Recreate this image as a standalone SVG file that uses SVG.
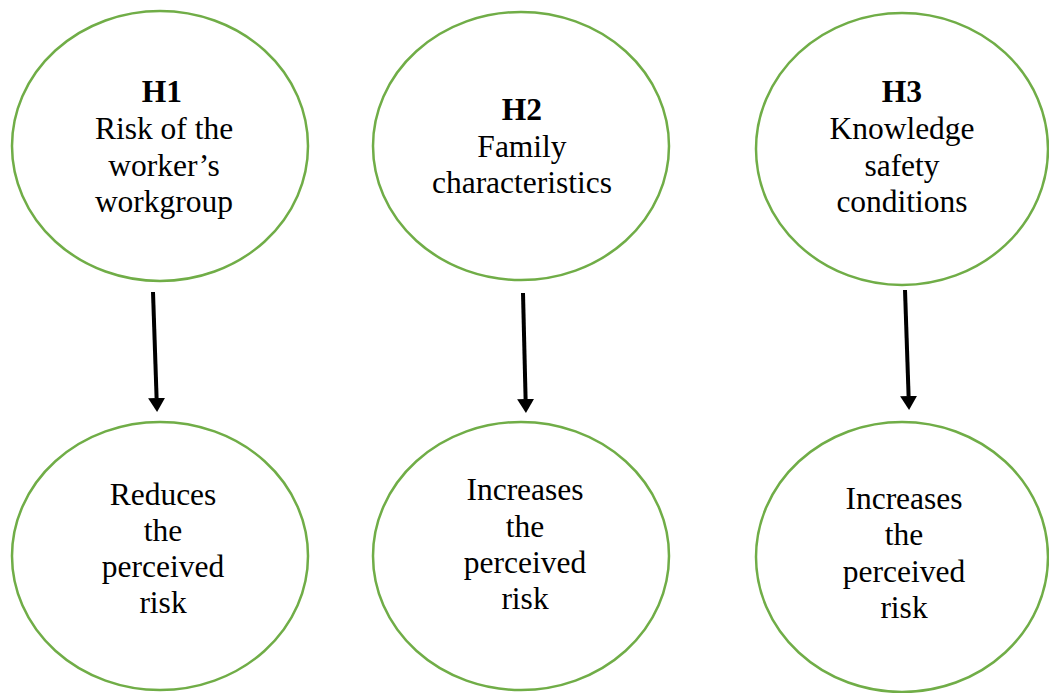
<svg xmlns="http://www.w3.org/2000/svg" width="1049" height="693" viewBox="0 0 1049 693">
  <style>
    .node { fill: #FFFFFF; stroke: #70AD47; stroke-width: 2.5; }
    .t { font-family: "Liberation Serif", "Times New Roman", serif; font-size: 31.5px; fill: #000000; text-anchor: middle; }
    .b { font-weight: bold; }
    .conn { stroke: #000000; stroke-width: 4; fill: none; }
  </style>
  <defs>
    <marker id="arrow" viewBox="0 0 14 17" refX="0" refY="8.5" markerWidth="14" markerHeight="17" markerUnits="userSpaceOnUse" orient="auto">
      <path d="M0,0 L14,8.5 L0,17 z" fill="#000000"/>
    </marker>
  </defs>
  <rect width="1049" height="693" fill="#FFFFFF"/>

  <g id="h1">
    <ellipse class="node" cx="160" cy="146" rx="148" ry="135"/>
    <text class="t b" x="162" y="102">H1</text>
    <text class="t" x="164" y="139">Risk of the</text>
    <text class="t" x="164" y="176">worker’s</text>
    <text class="t" x="164" y="212">workgroup</text>
  </g>
  <g id="h2">
    <ellipse class="node" cx="521" cy="146" rx="148" ry="134"/>
    <text class="t b" x="522" y="120">H2</text>
    <text class="t" x="522" y="157">Family</text>
    <text class="t" x="522" y="193">characteristics</text>
  </g>
  <g id="h3">
    <ellipse class="node" cx="902" cy="149" rx="146" ry="136"/>
    <text class="t b" x="902" y="102">H3</text>
    <text class="t" x="902" y="139">Knowledge</text>
    <text class="t" x="902" y="176">safety</text>
    <text class="t" x="902" y="212">conditions</text>
  </g>
  <g id="r1">
    <ellipse class="node" cx="160" cy="556" rx="148" ry="134"/>
    <text class="t" x="163" y="505">Reduces</text>
    <text class="t" x="163" y="541">the</text>
    <text class="t" x="163" y="577">perceived</text>
    <text class="t" x="163" y="613">risk</text>
  </g>
  <g id="r2">
    <ellipse class="node" cx="521" cy="556" rx="148" ry="134"/>
    <text class="t" x="525" y="500">Increases</text>
    <text class="t" x="525" y="537">the</text>
    <text class="t" x="525" y="573">perceived</text>
    <text class="t" x="525" y="609">risk</text>
  </g>
  <g id="r3">
    <ellipse class="node" cx="902" cy="557" rx="146" ry="135"/>
    <text class="t" x="904" y="509">Increases</text>
    <text class="t" x="904" y="545">the</text>
    <text class="t" x="904" y="582">perceived</text>
    <text class="t" x="904" y="618">risk</text>
  </g>

  <g id="connectors">
    <line class="conn" x1="153" y1="292" x2="156.6" y2="398" marker-end="url(#arrow)"/>
    <line class="conn" x1="523" y1="293" x2="525.6" y2="399" marker-end="url(#arrow)"/>
    <line class="conn" x1="905" y1="290" x2="908.6" y2="396" marker-end="url(#arrow)"/>
  </g>
</svg>
